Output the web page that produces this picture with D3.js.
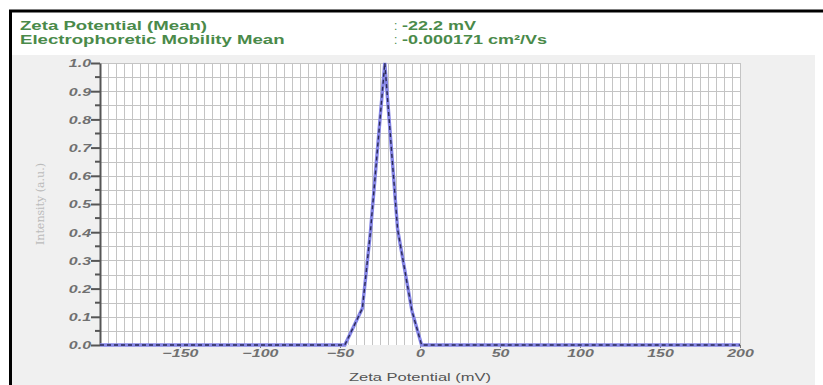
<!DOCTYPE html>
<html>
<head>
<meta charset="utf-8">
<script src="https://cdn.jsdelivr.net/npm/d3@7"></script>
<style>
  body { margin: 0; background: #fff; }
  svg { display: block; font-family: "Liberation Sans", Arial, sans-serif; }
</style>
</head>
<body>
<div id="chart"></div>
<script>
// header lines
const headerLabels = ["Zeta Potential (Mean)", "Electrophoretic Mobility Mean"];
const headerValues = ["-22.2 mV", "-0.000171 cm\u00b2/Vs"];

// zeta distribution (mV vs intensity)
const zeta = [-200, -47, -36, -31, -22, -14, -5, 1, 200];
const intensity = [0, 0, 0.13, 0.40, 1.0, 0.41, 0.12, 0, 0];

const xTicks = [-150, -100, -50, 0, 50, 100, 150, 200];
const yTicks = [0, 0.1, 0.2, 0.3, 0.4, 0.5, 0.6, 0.7, 0.8, 0.9, 1.0];

const W = 823, H = 385;
const svg = d3.select("#chart").append("svg").attr("width", W).attr("height", H);

// the source picture is stretched sideways, so widen text the same way
function stretch(sel, k) {
    sel.each(function () {
        const w = this.getComputedTextLength();
        d3.select(this).attr("textLength", w * k).attr("lengthAdjust", "spacingAndGlyphs");
    });
}

// frame + backgrounds
svg.append("rect").attr("x", 12).attr("y", 55).attr("width", 803).attr("height", 330).attr("fill", "#f0f0f0");
svg.append("line").attr("x1", 9).attr("x2", W).attr("y1", 11).attr("y2", 11)
    .attr("stroke", "#000").attr("stroke-width", 3);
svg.append("line").attr("x1", 10.5).attr("x2", 10.5).attr("y1", 10).attr("y2", H)
    .attr("stroke", "#000").attr("stroke-width", 3);

// header
const hdr = svg.append("g").attr("fill", "#4a8a4a").attr("font-size", 12).attr("font-weight", "bold");
headerLabels.forEach((t, i) => {
    hdr.append("text").attr("x", 20).attr("y", 30 + i * 14).text(t).call(stretch, 1.55);
    hdr.append("text").attr("x", 394).attr("y", 30 + i * 14).attr("font-weight", "normal").text(":");
    hdr.append("text").attr("x", 402).attr("y", 30 + i * 14).text(headerValues[i]).call(stretch, 1.5);
});

const margin = {left: 100, right: 83, top: 63, bottom: 40};
const x = d3.scaleLinear().domain([-200, 200]).range([margin.left, W - margin.right]);
const y = d3.scaleLinear().domain([0, 1]).range([H - margin.bottom, margin.top]);

// plot area
svg.append("rect").attr("x", x(-200)).attr("y", y(1)).attr("width", x(200) - x(-200))
    .attr("height", y(0) - y(1)).attr("fill", "#fff");

const grid = svg.append("g").attr("stroke", "#c4c4c4").attr("stroke-width", 1);
grid.selectAll("line.v").data(d3.range(-195, 201, 5)).enter().append("line")
    .attr("x1", d => Math.round(x(d)) + 0.5).attr("x2", d => Math.round(x(d)) + 0.5)
    .attr("y1", y(1)).attr("y2", y(0));
grid.selectAll("line.h").data(d3.range(0.05, 1.01, 0.05)).enter().append("line")
    .attr("y1", d => Math.round(y(d)) + 0.5).attr("y2", d => Math.round(y(d)) + 0.5)
    .attr("x1", x(-200)).attr("x2", x(200));

// y axis
const yAxis = svg.append("g").attr("transform", `translate(${x(-200)},0)`)
    .call(d3.axisLeft(y).tickValues(yTicks).tickFormat(d3.format(".1f")).tickSize(9).tickSizeOuter(0));
yAxis.select(".domain").attr("stroke", "#555").attr("stroke-width", 2);
yAxis.selectAll(".tick line").attr("stroke", "#555").attr("stroke-width", 2);
yAxis.selectAll("text").attr("fill", "#707070").attr("font-size", 11).attr("font-weight", "bold")
    .attr("font-style", "italic").attr("x", -9).attr("dy", "0.35em").call(stretch, 1.45);
yAxis.selectAll("line.minor").data(d3.range(0.05, 1, 0.1)).enter().append("line")
    .attr("class", "minor").attr("x1", -5).attr("x2", 0)
    .attr("y1", d => y(d)).attr("y2", d => y(d)).attr("stroke", "#555").attr("stroke-width", 2);

// x axis labels
const xAxis = svg.append("g").attr("transform", `translate(0,${y(0)})`)
    .call(d3.axisBottom(x).tickValues(xTicks).tickFormat(d3.format("d")).tickSize(3).tickSizeOuter(0));
xAxis.select(".domain").remove();
xAxis.selectAll(".tick line").attr("stroke", "#777");
xAxis.selectAll("text").attr("fill", "#707070").attr("font-size", 11).attr("font-weight", "bold")
    .attr("font-style", "italic").attr("dy", "0.55em").call(stretch, 1.45);

// axis titles
svg.append("text").attr("x", x(0)).attr("y", 381).attr("text-anchor", "middle")
    .attr("fill", "#555").attr("font-size", 11).text("Zeta Potential (mV)").call(stretch, 1.5);
svg.append("text").attr("transform", `translate(44,${(y(0) + y(1)) / 2}) rotate(-90)`)
    .attr("text-anchor", "middle").attr("fill", "#bbb").attr("font-size", 11)
    .attr("font-family", "DejaVu Serif, serif").text("Intensity (a.u.)");

// distribution line
const pts = zeta.map((d, i) => [d, intensity[i]]);
const line = d3.line().x(d => x(d[0])).y(d => y(d[1]));
svg.append("path").datum(pts).attr("d", line).attr("fill", "none")
    .attr("stroke", "#8585e6").attr("stroke-width", 3.4);
svg.append("path").datum(pts).attr("d", line).attr("fill", "none")
    .attr("stroke", "#2a2a55").attr("stroke-width", 1.4).attr("stroke-dasharray", "4,3");
</script>
</body>
</html>
